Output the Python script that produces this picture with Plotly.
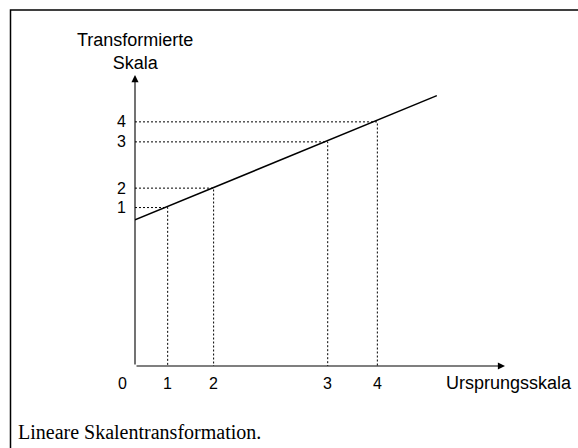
import plotly.graph_objects as go

# ---- data (abstract drawing units) ----
orig_labels = ["1", "2", "3", "4"]
orig_pos = [1.06, 2.55, 6.25, 7.86]          # positions on the original scale
trans_pos = [5.14, 5.77, 7.27, 7.92]         # positions on the transformed scale
line_x = [0.0, 9.79]                         # transformation line
line_y = [4.74, 8.77]
x_max = 12.0
y_max = 9.44
zero_label = "0"
y_title = "Transformierte<br>Skala"
x_title = "Ursprungsskala"
caption = "Lineare Skalentransformation."

W, H = 578, 448
L, R, T, B = 135, 73, 75, 82
PW, PH = W - L - R, H - T - B


def px_x(p):
    return (p - L) / PW


def px_y(p):
    return (H - B - p) / PH


fig = go.Figure()

# dotted guides
gx, gy = [], []
for xv, yv in zip(orig_pos, trans_pos):
    gx += [0, xv, xv, None]
    gy += [yv, yv, 0, None]
fig.add_trace(go.Scatter(x=gx, y=gy, mode="lines",
                         line=dict(color="black", width=1, dash="2px,2px"),
                         hoverinfo="skip", showlegend=False))

# transformation line
fig.add_trace(go.Scatter(x=line_x, y=line_y, mode="lines",
                         line=dict(color="black", width=1.5),
                         hoverinfo="skip", showlegend=False))

ann = []
# axes with arrows
ann.append(dict(x=x_max, y=0, ax=0, ay=0, xref="x", yref="y", axref="x", ayref="y",
                showarrow=True, arrowhead=2, arrowsize=1.3, arrowwidth=1.1,
                arrowcolor="black", text="", standoff=0))
ann.append(dict(x=0, y=y_max, ax=0, ay=0, xref="x", yref="y", axref="x", ayref="y",
                showarrow=True, arrowhead=2, arrowsize=1.3, arrowwidth=1.1,
                arrowcolor="black", text="", standoff=0))

tick_font = dict(family="Liberation Sans, Arial, sans-serif", size=16, color="black")
word_font = dict(family="Liberation Sans, Arial, sans-serif", size=18, color="black")

lab_y = px_y(383)
# x tick labels
ann.append(dict(x=px_x(122), y=lab_y, xref="paper", yref="paper", text=zero_label,
                showarrow=False, font=tick_font, xanchor="center", yanchor="middle"))
for xv, lab in zip(orig_pos, orig_labels):
    ann.append(dict(x=xv, y=lab_y, xref="x", yref="paper", text=lab, showarrow=False,
                    font=tick_font, xanchor="center", yanchor="middle"))
# y tick labels
for yv, lab in zip(trans_pos, orig_labels):
    ann.append(dict(x=0, y=yv, xref="x", yref="y", text=lab, showarrow=False,
                    font=tick_font, xanchor="right", yanchor="middle", xshift=-7))

# axis titles
ann.append(dict(x=0, y=px_y(51), xref="x", yref="paper", text=y_title,
                showarrow=False, font=word_font, xanchor="center", yanchor="middle"))
ann.append(dict(x=px_x(509), y=lab_y, xref="paper", yref="paper", text=x_title,
                showarrow=False, font=word_font, xanchor="center", yanchor="middle"))
# caption
ann.append(dict(x=px_x(16), y=px_y(432), xref="paper", yref="paper",
                text=caption, showarrow=False,
                font=dict(family="Liberation Serif, Times New Roman, serif", size=20, color="black"),
                xanchor="left", yanchor="middle"))

# frame (top and left edges visible; right/bottom run off the picture)
shapes = [dict(type="rect", xref="paper", yref="paper",
               x0=px_x(10.5), x1=px_x(600), y0=px_y(480), y1=px_y(10),
               line=dict(color="black", width=1.5), fillcolor="rgba(0,0,0,0)")]

fig.update_layout(
    width=W, height=H,
    margin=dict(l=L, r=R, t=T, b=B),
    paper_bgcolor="white", plot_bgcolor="white",
    xaxis=dict(range=[0, x_max], visible=False, fixedrange=True),
    yaxis=dict(range=[0, y_max], visible=False, fixedrange=True),
    annotations=ann, shapes=shapes, showlegend=False,
)

fig.write_html("out.html", config={"displayModeBar": False},
               post_script="document.body.style.margin='0';document.body.style.overflow='hidden';")
